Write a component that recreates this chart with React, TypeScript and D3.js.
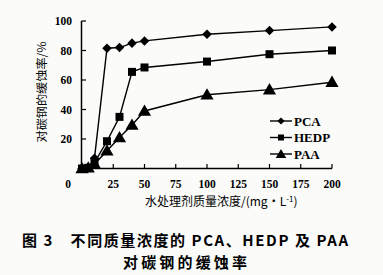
import React from "react";
import * as d3 from "d3";

const concentrations = [0, 5, 10, 20, 30, 40, 50, 100, 150, 200];
const pcaValues = [0, 0.5, 7, 81.5, 82, 85, 86.5, 91, 93.5, 96];
const hedpValues = [0, 0.5, 4, 18.5, 35, 65.5, 68.5, 72.5, 77.5, 80];
const paaValues = [0, 0.5, 3, 12, 21, 29.5, 39, 50, 53.5, 58.5];
const seriesNames = ["PCA", "HEDP", "PAA"];
const xTicks = [25, 50, 75, 100, 125, 150, 175, 200];
const yTicks = [20, 40, 60, 80, 100];

const W = 383;
const H = 275;
const serif = "'Liberation Serif', 'DejaVu Serif', serif";
const cjk = "'Noto Sans CJK SC', 'Liberation Serif', sans-serif";

function Marker({ type, cx, cy, s }: { type: string; cx: number; cy: number; s: number }) {
  if (type === "PCA") {
    const sym = d3.symbol(d3.symbolDiamond2, s * s * 0.9)();
    return <path d={sym as string} transform={`translate(${cx},${cy})`} fill="#000" />;
  }
  if (type === "HEDP") {
    return <rect x={cx - s / 2} y={cy - s / 2} width={s} height={s} fill="#000" />;
  }
  const sym = d3.symbol(d3.symbolTriangle, s * s * 0.75)();
  return <path d={sym as string} transform={`translate(${cx},${cy + 1})`} fill="#000" />;
}

export default function App() {
  const x = d3.scaleLinear().domain([0, 200]).range([82, 332]);
  const y = d3.scaleLinear().domain([0, 100]).range([168.5, 21]);
  const series = [pcaValues, hedpValues, paaValues];
  const line = d3
    .line<number>()
    .x((_, i) => x(concentrations[i]))
    .y((d) => y(d));
  const legendY = [121, 137.5, 154];

  return (
    <svg width={W} height={H} style={{ position: "absolute", left: 0, top: 0, background: "#fbfbfa" }}>
      <rect x={0} y={0} width={W} height={H} fill="#fbfbfa" />
      {/* axes */}
      <line x1={81.5} y1={21} x2={81.5} y2={169} stroke="#000" strokeWidth={1.5} />
      <line x1={81} y1={168.5} x2={332} y2={168.5} stroke="#000" strokeWidth={1.5} />
      {yTicks.map((t) => (
        <g key={"y" + t}>
          <line x1={81.5} x2={86} y1={y(t)} y2={y(t)} stroke="#000" strokeWidth={1.2} />
          <text x={72} y={y(t) + 4} textAnchor="end" fontFamily={serif} fontSize={11.5} fontWeight="bold">
            {t}
          </text>
        </g>
      ))}
      {xTicks.map((t) => (
        <g key={"x" + t}>
          <line x1={x(t)} x2={x(t)} y1={168.5} y2={164} stroke="#000" strokeWidth={1.2} />
          <text x={x(t)} y={188} textAnchor="middle" fontFamily={serif} fontSize={11.5} fontWeight="bold">
            {t}
          </text>
        </g>
      ))}
      <text x={68} y={188} textAnchor="middle" fontFamily={serif} fontSize={11.5} fontWeight="bold">
        0
      </text>
      {/* series */}
      {series.map((vals, si) => (
        <g key={seriesNames[si]}>
          <path d={line(vals) as string} fill="none" stroke="#000" strokeWidth={1.4} />
          {vals.map((v, i) => (
            <Marker key={i} type={seriesNames[si]} cx={x(concentrations[i])} cy={y(v)} s={si === 2 ? 10 : 8} />
          ))}
        </g>
      ))}
      {/* legend */}
      {seriesNames.map((n, i) => (
        <g key={"lg" + n}>
          <line x1={270} x2={292} y1={legendY[i]} y2={legendY[i]} stroke="#000" strokeWidth={1.4} />
          <Marker type={n} cx={281} cy={legendY[i]} s={i === 2 ? 8 : 6} />
          <text x={294} y={legendY[i] + 4.5} fontFamily={serif} fontSize={13} fontWeight="bold">
            {n}
          </text>
        </g>
      ))}
      {/* axis titles */}
      <text
        transform="translate(46,92) rotate(-90)"
        textAnchor="middle"
        fontFamily={cjk}
        fontSize={11.5}
        textLength={101}
        lengthAdjust="spacingAndGlyphs"
      >
        对碳钢的缓蚀率/%
      </text>
      <text x={145} y={206} fontFamily={cjk} fontSize={12}>
        水处理剂质量浓度/(mg·L
        <tspan dy={-4} fontSize={8}>
          -1
        </tspan>
        <tspan dy={4}>)</tspan>
      </text>
      {/* caption */}
      <text x={22} y={246} fontFamily={cjk} fontSize={15} fontWeight="bold" textLength={326} lengthAdjust="spacing">
        图 3　不同质量浓度的 PCA、HEDP 及 PAA
      </text>
      <text x={123} y={268} fontFamily={cjk} fontSize={15} fontWeight="bold" textLength={124} lengthAdjust="spacing">
        对碳钢的缓蚀率
      </text>
    </svg>
  );
}
